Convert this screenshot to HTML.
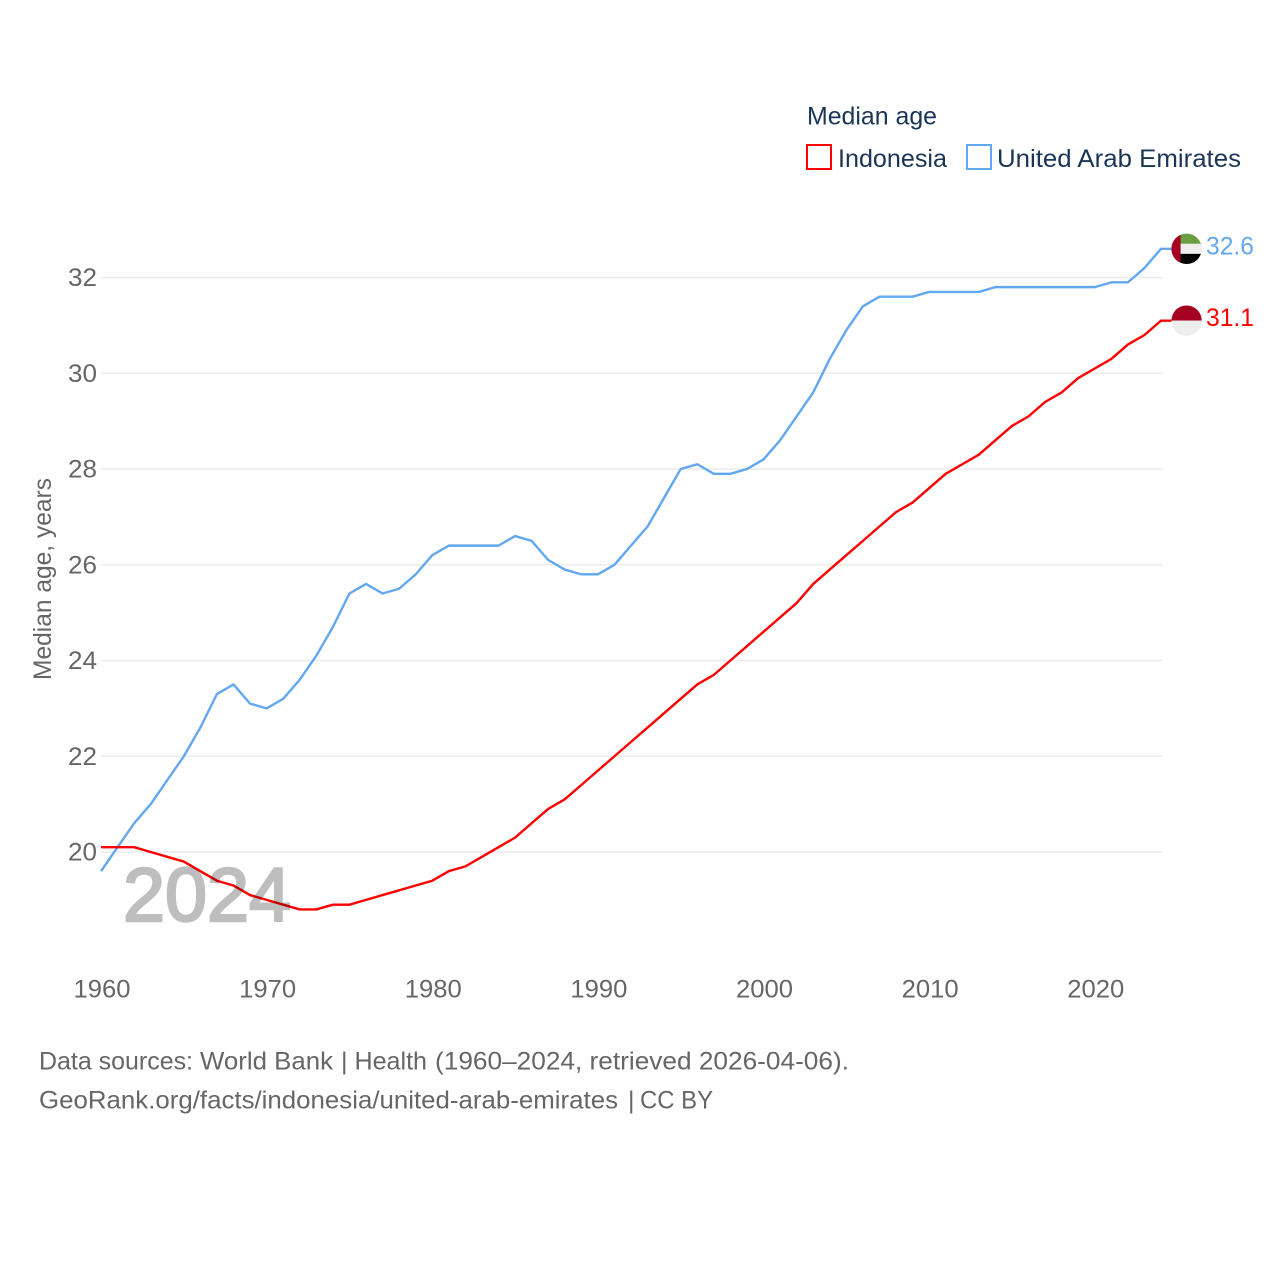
<!DOCTYPE html>
<html lang="en">
<head>
<meta charset="utf-8">
<title>Median age: Indonesia and United Arab Emirates</title>
<style>
html,body{margin:0;padding:0;background:#fff;}
svg{display:block;font-family:"Liberation Sans",sans-serif;}
.tick{font-size:25px;fill:#666;}
.legend{font-size:25px;fill:#1b3556;}
.foot{font-size:25px;fill:#666;}
</style>
</head>
<body>
<svg id="chart" width="1280" height="1280" viewBox="0 0 1280 1280" xmlns="http://www.w3.org/2000/svg">
  <defs>
    <clipPath id="clip-uae"><circle cx="0" cy="0" r="15.2"></circle></clipPath>
    <clipPath id="clip-idn"><circle cx="0" cy="0" r="15.2"></circle></clipPath>
  </defs>
  <rect x="0" y="0" width="1280" height="1280" fill="#fff"></rect>

  <g id="grid"></g>
  <g id="ytick-labels"></g>
  <g id="xtick-labels"></g>

  <text class="tick" transform="translate(51,680) rotate(-90)" x="0" y="0" textLength="202" lengthAdjust="spacingAndGlyphs">Median age, years</text>

  <g id="series"></g>

  <text x="123" y="921" font-size="76" font-weight="400" fill="#000" stroke="#000" stroke-width="2.5" opacity="0.25" textLength="168" lengthAdjust="spacingAndGlyphs">2024</text>

  <g id="end-markers"></g>

  <text class="legend" x="807" y="124.5" textLength="130" lengthAdjust="spacingAndGlyphs">Median age</text>
  <g>
    <rect x="807" y="145" width="24" height="24" fill="#fff" stroke="#ff0000" stroke-width="2"></rect>
    <text class="legend" x="838" y="167" textLength="109" lengthAdjust="spacingAndGlyphs">Indonesia</text>
  </g>
  <g>
    <rect x="967" y="145" width="24" height="24" fill="#fff" stroke="#62a8f0" stroke-width="2"></rect>
    <text class="legend" x="997" y="167" textLength="244" lengthAdjust="spacingAndGlyphs">United Arab Emirates</text>
  </g>

  <text class="foot" y="1069.5"><tspan x="39" textLength="154" lengthAdjust="spacingAndGlyphs">Data sources:</tspan> <tspan x="200" textLength="133" lengthAdjust="spacingAndGlyphs">World Bank</tspan> <tspan x="341" textLength="86" lengthAdjust="spacingAndGlyphs">| Health</tspan> <tspan x="435" textLength="414" lengthAdjust="spacingAndGlyphs">(1960–2024, retrieved 2026-04-06).</tspan></text>
  <text class="foot" y="1108.5"><tspan x="39" textLength="579" lengthAdjust="spacingAndGlyphs">GeoRank.org/facts/indonesia/united-arab-emirates</tspan> <tspan x="628">|</tspan> <tspan x="640" textLength="73" lengthAdjust="spacingAndGlyphs">CC BY</tspan></text>
</svg>
<script>
const startYear = 1960;
const yTicks = [20, 22, 24, 26, 28, 30, 32];
const xTicks = [1960, 1970, 1980, 1990, 2000, 2010, 2020];
const indonesia = [20.1,20.1,20.1,20.0,19.9,19.8,19.6,19.4,19.3,19.1,19.0,18.9,18.8,18.8,18.9,18.9,19.0,19.1,19.2,19.3,19.4,19.6,19.7,19.9,20.1,20.3,20.6,20.9,21.1,21.4,21.7,22.0,22.3,22.6,22.9,23.2,23.5,23.7,24.0,24.3,24.6,24.9,25.2,25.6,25.9,26.2,26.5,26.8,27.1,27.3,27.6,27.9,28.1,28.3,28.6,28.9,29.1,29.4,29.6,29.9,30.1,30.3,30.6,30.8,31.1];
const uae = [19.6,20.1,20.6,21.0,21.5,22.0,22.6,23.3,23.5,23.1,23.0,23.2,23.6,24.1,24.7,25.4,25.6,25.4,25.5,25.8,26.2,26.4,26.4,26.4,26.4,26.6,26.5,26.1,25.9,25.8,25.8,26.0,26.4,26.8,27.4,28.0,28.1,27.9,27.9,28.0,28.2,28.6,29.1,29.6,30.3,30.9,31.4,31.6,31.6,31.6,31.7,31.7,31.7,31.7,31.8,31.8,31.8,31.8,31.8,31.8,31.8,31.9,31.9,32.2,32.6];

const NS = 'http://www.w3.org/2000/svg';
const X0 = 101, X_PER_YEAR = 16.5625, Y20 = 852, Y_PER_UNIT = 47.87;
const xScale = function (year) { return X0 + (year - 1960) * X_PER_YEAR; };
const yScale = function (v) { return Y20 - (v - 20) * Y_PER_UNIT; };

function make(tag, attrs, parent) {
  const el = document.createElementNS(NS, tag);
  Object.keys(attrs).forEach(function (k) { el.setAttribute(k, attrs[k]); });
  parent.appendChild(el);
  return el;
}

const gridG = document.getElementById('grid');
const yLabelG = document.getElementById('ytick-labels');
const xLabelG = document.getElementById('xtick-labels');
const seriesG = document.getElementById('series');
const markerG = document.getElementById('end-markers');

yTicks.forEach(function (t) {
  const line = make('line', { x1: 101, x2: 1162, y1: yScale(t), y2: yScale(t), stroke: '#ececec', 'stroke-width': 1.5 }, gridG);
  
  
  const label = make('text', { x: 97, y: yScale(t) + 8.5, 'text-anchor': 'end', class: 'tick', textLength: 29, lengthAdjust: 'spacingAndGlyphs' }, yLabelG);
  
  
  label.textContent = String(t);
});

xTicks.forEach(function (t) {
  const label = make('text', { x: xScale(t) + 1, y: 997.5, 'text-anchor': 'middle', class: 'tick', textLength: 57, lengthAdjust: 'spacingAndGlyphs' }, xLabelG);
  
  
  label.textContent = String(t);
});

function linePoints(values) {
  const pts = values.map(function (v, i) { return xScale(startYear + i).toFixed(2) + ',' + yScale(v).toFixed(2); });
  const last = values[values.length - 1];
  pts.push('1172,' + yScale(last).toFixed(2));
  return pts.join(' ');
}

const uaeLine = make('polyline', { points: linePoints(uae), fill: 'none', stroke: '#62a8f0', 'stroke-width': 2.4, 'stroke-linejoin': 'round' }, seriesG);


const idnLine = make('polyline', { points: linePoints(indonesia), fill: 'none', stroke: '#ff0000', 'stroke-width': 2.4, 'stroke-linejoin': 'round' }, seriesG);



// United Arab Emirates end marker
const uaeLast = uae[uae.length - 1];
const uaeFlag = make('g', { transform: 'translate(1186.6,' + yScale(uaeLast).toFixed(2) + ')', 'clip-path': 'url(#clip-uae)' }, markerG);


make('rect', { x: -16, y: -16, width: 32, height: 11, fill: '#6a9e40' }, uaeFlag);
make('rect', { x: -16, y: -5, width: 32, height: 10, fill: '#eeeeee' }, uaeFlag);
make('rect', { x: -16, y: 5, width: 32, height: 11, fill: '#000000' }, uaeFlag);
make('rect', { x: -16, y: -16, width: 10, height: 32, fill: '#a50021' }, uaeFlag);
const uaeValue = make('text', { x: 1206, y: yScale(uaeLast) + 5.5, 'font-size': 25, fill: '#62a8f0', textLength: 48, lengthAdjust: 'spacingAndGlyphs' }, markerG);


uaeValue.textContent = uaeLast.toFixed(1);

// Indonesia end marker
const idnLast = indonesia[indonesia.length - 1];
const idnFlag = make('g', { transform: 'translate(1186.6,' + yScale(idnLast).toFixed(2) + ')', 'clip-path': 'url(#clip-idn)' }, markerG);


make('rect', { x: -16, y: -16, width: 32, height: 16, fill: '#a50021' }, idnFlag);
make('rect', { x: -16, y: 0, width: 32, height: 16, fill: '#eeeeee' }, idnFlag);
const idnValue = make('text', { x: 1206, y: yScale(idnLast) + 5.5, 'font-size': 25, fill: '#ff0000', textLength: 48, lengthAdjust: 'spacingAndGlyphs' }, markerG);


idnValue.textContent = idnLast.toFixed(1);
</script>
</body>
</html>
